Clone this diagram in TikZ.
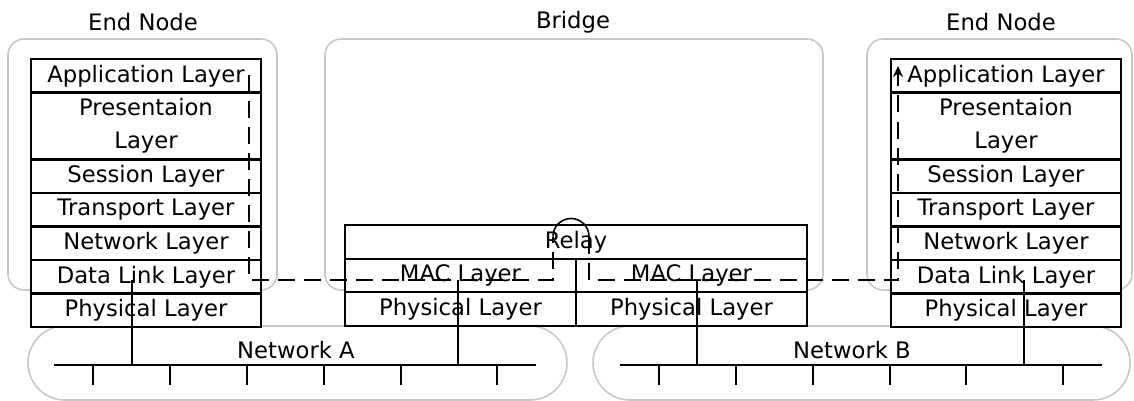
\documentclass[tikz,border=0pt]{standalone}
\usepackage{fontspec}
\setmainfont{DejaVu Sans}
\usetikzlibrary{positioning, arrows.meta}

\begin{document}
\begin{tikzpicture}[x=1pt, y=-1pt,
    layer/.style={draw, fill=white, line width=2.1pt, outer sep=0pt, inner sep=0pt,
        minimum width=230pt, minimum height=33.5pt, align=center,
        font=\fontsize{22.7}{33}\selectfont},
    title/.style={font=\fontsize{22.7}{27}\selectfont},
    frame/.style={draw=black!22, line width=1.6pt, rounded corners=16pt},
    lan/.style={draw=black!22, line width=1.6pt, rounded corners=37pt},
    wire/.style={line width=2pt},
    flow/.style={line width=2.2pt, dash pattern=on 17pt off 9pt}]
    \useasboundingbox (0,0) rectangle (1134,401);

    % device outlines and the two LANs
    \draw[frame] (8,39) rectangle (277,290);
    \draw[frame] (325,39) rectangle (823,290);
    \draw[frame] (867,39) rectangle (1132,290);
    \draw[lan] (28,326) rectangle (567,400);
    \draw[lan] (593,326) rectangle (1130,400);

    \node[title] (nameL) at (143,22) {End Node};
    \node[title] (nameB) at (573,22) {Bridge};
    \node[title] (nameR) at (1001,22) {End Node};

    % left end node
    \node[layer] (appL) at (146,75.75) {Application Layer};
    \node[layer, minimum height=67pt, below=0pt of appL] (preL) {Presentaion\\Layer};
    \node[layer, below=0pt of preL] (sesL) {Session Layer};
    \node[layer, below=0pt of sesL] (traL) {Transport Layer};
    \node[layer, below=0pt of traL] (netL) {Network Layer};
    \node[layer, below=0pt of netL] (dllL) {Data Link Layer};
    \node[layer, below=0pt of dllL] (phyL) {Physical Layer};

    % bridge
    \node[layer, minimum width=462pt] (relay) at (576,242) {Relay};
    \node[layer, minimum width=231pt, anchor=north west] (macA) at (relay.south west) {MAC Layer};
    \node[layer, minimum width=231pt, anchor=north east] (macB) at (relay.south east) {MAC Layer};
    \node[layer, minimum width=231pt, below=0pt of macA] (phyA) {Physical Layer};
    \node[layer, minimum width=231pt, below=0pt of macB] (phyB) {Physical Layer};

    % right end node
    \node[layer] (appR) at (1006,75.75) {Application Layer};
    \node[layer, minimum height=67pt, below=0pt of appR] (preR) {Presentaion\\Layer};
    \node[layer, below=0pt of preR] (sesR) {Session Layer};
    \node[layer, below=0pt of sesR] (traR) {Transport Layer};
    \node[layer, below=0pt of traR] (netR) {Network Layer};
    \node[layer, below=0pt of netR] (dllR) {Data Link Layer};
    \node[layer, below=0pt of dllR] (phyR) {Physical Layer};

    % network A
    \node[title] (lanA) at (296,350) {Network A};
    \draw[wire] (54,365) -- (536,365);
    \foreach \x in {93,170,247,324,401,497}
        \draw[wire] (\x,365) -- ++(0,20);
    \coordinate (tapL) at (132,365);
    \coordinate (tapA) at (458,365);
    \draw[wire] (tapL) -- ++(0,-85);
    \draw[wire] (tapA) -- ++(0,-85);

    % network B
    \node[title] (lanB) at (852,350) {Network B};
    \draw[wire] (620,365) -- (1102,365);
    \foreach \x in {659,736,813,890,966,1063}
        \draw[wire] (\x,365) -- ++(0,20);
    \coordinate (tapB) at (697,365);
    \coordinate (tapR) at (1024,365);
    \draw[wire] (tapB) -- ++(0,-85);
    \draw[wire] (tapR) -- ++(0,-85);

    % path of a frame through the bridge
    \coordinate (upA) at (553,236.5);
    \coordinate (upB) at (589,236.5);
    \draw[flow] (249,75) -- (249,280) -- (553,280) -- (upA);
    \draw[line width=1.6pt] (upA) arc[start angle=180, end angle=360, radius=18];
    \draw[flow, -{Stealth[length=11pt, width=10pt]}] (upB) -- (589,280) -- (898,280) -- (898,66);
\end{tikzpicture}
\end{document}
